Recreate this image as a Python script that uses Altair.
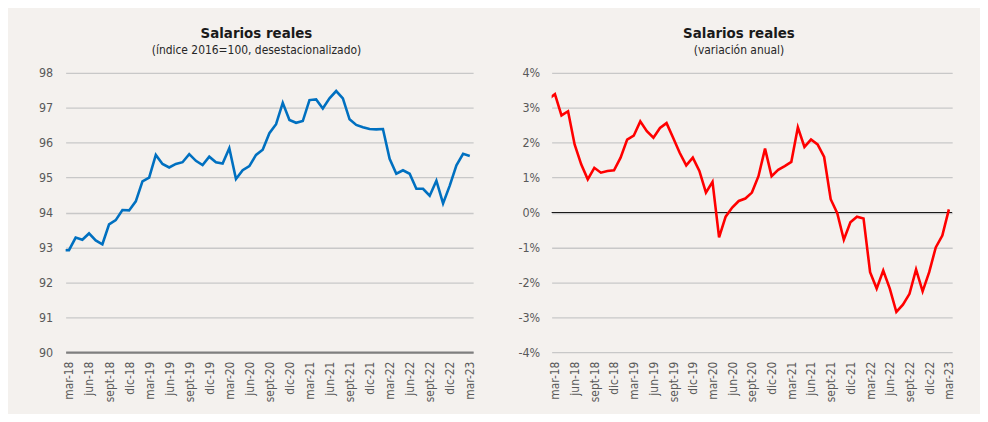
import altair as alt
import pandas as pd

# Month index: -1 = feb-18 (clipped at the frame edge), 0 = mar-18 ... 60 = mar-23
tick_labels = ["mar-18", "jun-18", "sept-18", "dic-18", "mar-19", "jun-19", "sept-19",
               "dic-19", "mar-20", "jun-20", "sept-20", "dic-20", "mar-21", "jun-21",
               "sept-21", "dic-21", "mar-22", "jun-22", "sept-22", "dic-22", "mar-23"]

indice = [92.92,
          92.92, 93.28, 93.22, 93.40, 93.20, 93.09, 93.66, 93.78, 94.07, 94.06,
          94.32, 94.89, 95.00, 95.65, 95.39, 95.29, 95.39, 95.44, 95.67, 95.48,
          95.36, 95.60, 95.44, 95.40, 95.84, 94.96, 95.21, 95.33, 95.65, 95.80,
          96.27, 96.53, 97.14, 96.65, 96.57, 96.62, 97.22, 97.24, 96.98, 97.27,
          97.48, 97.27, 96.67, 96.51, 96.44, 96.39, 96.38, 96.39, 95.54, 95.11,
          95.21, 95.11, 94.68, 94.68, 94.48, 94.91, 94.26, 94.77, 95.35, 95.68,
          95.62]

variacion = [3.25,
             3.39, 2.78, 2.90, 1.95, 1.38, 0.95, 1.28, 1.14, 1.19, 1.21,
             1.57, 2.09, 2.20, 2.61, 2.33, 2.14, 2.42, 2.56, 2.14, 1.71,
             1.35, 1.57, 1.19, 0.57, 0.88, -0.71, -0.12, 0.14, 0.33, 0.40,
             0.57, 1.04, 1.83, 1.04, 1.22, 1.33, 1.45, 2.44, 1.88, 2.09,
             1.95, 1.59, 0.38, -0.02, -0.78, -0.28, -0.12, -0.17, -1.71, -2.18,
             -1.66, -2.18, -2.85, -2.64, -2.33, -1.63, -2.26, -1.71, -1.00, -0.66,
             0.09]

t = list(range(-1, 61))
df_left = pd.DataFrame({"t": t, "v": indice})
df_right = pd.DataFrame({"t": t, "v": variacion})

FONT = "DejaVu Sans Condensed, Lato, sans-serif"
LABEL_COLOR = "#595959"
GRID = "#c8c8c8"
BG = "#f4f1ee"

label_arr = "[" + ",".join("'" + s + "'" for s in tick_labels) + "]"
x_label_expr = label_arr + "[round(datum.value/3)]"


def x_enc(domain_line):
    return alt.X(
        "t:Q",
        scale=alt.Scale(domain=[-0.5, 60.5], nice=False, zero=False),
        axis=alt.Axis(
            values=list(range(0, 61, 3)), labelExpr=x_label_expr, labelAngle=270,
            grid=False, ticks=False, domain=domain_line, domainColor="#7f7f7f",
            domainWidth=2.2, labelPadding=9, title=None, labelFont=FONT,
            labelFontSize=12, labelColor=LABEL_COLOR, labelOverlap=False,
            labelFlush=False,
        ),
    )


def title(sub):
    return alt.TitleParams(
        text="Salarios reales", subtitle=sub,
        font=FONT, fontSize=15, fontWeight="bold", color="#1a1a1a",
        subtitleFont=FONT, subtitleFontSize=12, subtitleColor="#262626",
        subtitlePadding=4, anchor="middle", dx=-13, offset=11,
    )


left = alt.Chart(df_left).mark_line(color="#0070C0", strokeWidth=2.6, clip=True).encode(
    x=x_enc(True),
    y=alt.Y(
        "v:Q",
        scale=alt.Scale(domain=[90, 98], nice=False, zero=False),
        axis=alt.Axis(
            values=list(range(90, 99)), grid=True, gridColor=GRID, gridWidth=1.3,
            domain=False, ticks=False, labelPadding=13, title=None,
            labelFont=FONT, labelFontSize=12.5, labelColor=LABEL_COLOR,
            labelOverlap=False, minExtent=53, maxExtent=53,
        ),
    ),
).properties(width=410, height=281, title=title("(índice 2016=100, desestacionalizado)"))

y_right = alt.Y(
    "v:Q",
    scale=alt.Scale(domain=[-4, 4], nice=False, zero=False),
    axis=alt.Axis(
        values=list(range(-4, 5)), grid=True, gridColor=GRID, gridWidth=1.3,
        domain=False, ticks=False, labelPadding=12, title=None,
        labelExpr="datum.value + '%'", labelOverlap=False,
        labelFont=FONT, labelFontSize=12.5, labelColor=LABEL_COLOR,
        minExtent=50, maxExtent=50,
    ),
)

right_line = alt.Chart(df_right).mark_line(color="#FF0000", strokeWidth=2.6, clip=True).encode(
    x=x_enc(False),
    y=y_right,
)

zero_rule = alt.Chart(pd.DataFrame({"v": [0]})).mark_rule(color="#1a1a1a", strokeWidth=1.2).encode(
    y=y_right
)

right = alt.layer(zero_rule, right_line).properties(
    width=403, height=281, title=title("(variación anual)")
)

chart = alt.hconcat(left, right, spacing=26).properties(
    background=BG,
    padding={"left": 5, "top": 17, "right": 25, "bottom": 11},
).configure_view(stroke=None).configure_concat(spacing=26)

chart.save("out.html", embed_options={"renderer": "svg", "actions": False})
